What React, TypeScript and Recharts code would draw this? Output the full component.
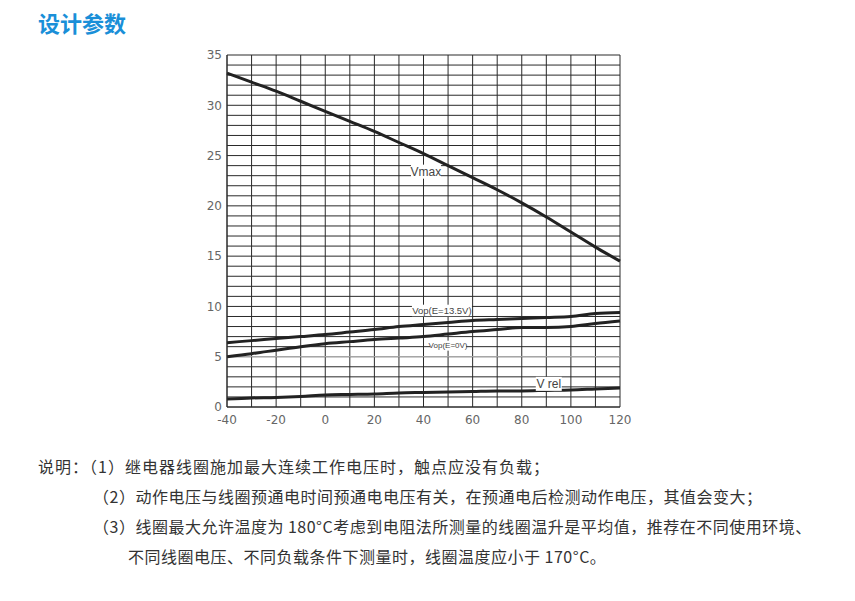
import React from 'react';
import { LineChart, Line, XAxis, YAxis, CartesianGrid, ReferenceDot, ReferenceLine } from 'recharts';

const temps = [-40, -30, -20, -10, 0, 10, 20, 30, 40, 50, 60, 70, 80, 90, 100, 110, 120];
const vmax = [33.2, 32.3, 31.4, 30.4, 29.4, 28.4, 27.4, 26.3, 25.2, 24.0, 22.8, 21.6, 20.3, 18.9, 17.4, 15.9, 14.5];
const vop135 = [6.4, 6.6, 6.8, 7.0, 7.2, 7.45, 7.7, 8.0, 8.2, 8.4, 8.6, 8.7, 8.8, 8.9, 9.0, 9.3, 9.4];
const vop0 = [5.0, 5.3, 5.65, 6.0, 6.3, 6.5, 6.7, 6.85, 7.0, 7.25, 7.5, 7.7, 7.9, 7.9, 8.0, 8.3, 8.55];
const vrel = [0.8, 0.9, 0.95, 1.05, 1.2, 1.25, 1.3, 1.4, 1.45, 1.5, 1.55, 1.6, 1.6, 1.65, 1.7, 1.8, 1.9];

const xTicks = [-40, -30, -20, -10, 0, 10, 20, 30, 40, 50, 60, 70, 80, 90, 100, 110, 120];
const yTicks = Array.from({ length: 36 }, (_, i) => i);

const notes = [
  '说明：（1）继电器线圈施加最大连续工作电压时，触点应没有负载；',
  '（2）动作电压与线圈预通电时间预通电电压有关，在预通电后检测动作电压，其值会变大；',
  '（3）线圈最大允许温度为 180°C考虑到电阻法所测量的线圈温升是平均值，推荐在不同使用环境、',
  '不同线圈电压、不同负载条件下测量时，线圈温度应小于 170°C。',
];

const data = temps.map((t, i) => ({ t, vmax: vmax[i], vop135: vop135[i], vop0: vop0[i], vrel: vrel[i] }));

const makeLabel = (text: string, size: number, w: number) => (props: any) => {
  const vb = props.viewBox || {};
  const cx = vb.x + (vb.width || 0) / 2;
  const cy = vb.y + (vb.height || 0) / 2;
  return (
    <g>
      <rect x={cx - w / 2} y={cy - size / 2 - 1} width={w} height={size + 2} fill="#fff" />
      <text x={cx} y={cy} textAnchor="middle" dominantBaseline="central" fontSize={size} fill="#444" fontFamily="'Liberation Sans', Arial, sans-serif">
        {text}
      </text>
    </g>
  );
};

const tickStyle = { fontSize: 12, fill: '#666', fontFamily: "'DejaVu Sans', sans-serif" };

export default function App() {
  return (
    <div style={{ position: 'absolute', left: 0, top: 0, width: 855, height: 601, background: '#fff', fontFamily: "'Noto Sans CJK SC', sans-serif" }}>
      <div style={{ position: 'absolute', left: 38, top: 8, fontSize: 22, fontWeight: 700, color: '#1a8fd8', lineHeight: '28px' }}>设计参数</div>
      <div style={{ position: 'absolute', left: 0, top: 0 }}>
        <LineChart width={855} height={440} data={data} margin={{ top: 55, right: 235, bottom: 3, left: 197 }}>
          <CartesianGrid stroke="#2a2a2a" strokeWidth={1} horizontalValues={yTicks} verticalValues={xTicks} />
          <ReferenceLine y={5} stroke="#bbb" strokeWidth={1} />
          <XAxis
            dataKey="t"
            type="number"
            domain={[-40, 120]}
            ticks={xTicks}
            interval={0}
            tickFormatter={(v: number) => (v % 20 === 0 ? String(v) : '')}
            tickLine={false}
            tickSize={0}
            axisLine={{ stroke: '#2a2a2a' }}
            tick={tickStyle}
            tickMargin={8}
            height={30}
          />
          <YAxis
            type="number"
            domain={[0, 35]}
            ticks={yTicks}
            interval={0}
            tickFormatter={(v: number) => (v % 5 === 0 ? String(v) : '')}
            tickLine={false}
            tickSize={0}
            axisLine={{ stroke: '#2a2a2a' }}
            tick={tickStyle}
            tickMargin={5}
            width={30}
          />
          <Line type="monotone" dataKey="vmax" stroke="#222" strokeWidth={3} dot={false} isAnimationActive={false} />
          <Line type="monotone" dataKey="vop135" stroke="#222" strokeWidth={3} dot={false} isAnimationActive={false} />
          <Line type="monotone" dataKey="vop0" stroke="#222" strokeWidth={3} dot={false} isAnimationActive={false} />
          <Line type="monotone" dataKey="vrel" stroke="#222" strokeWidth={3} dot={false} isAnimationActive={false} />
          <ReferenceDot x={41} y={23.4} r={0} stroke="none" label={makeLabel('Vmax', 12, 30)} />
          <ReferenceDot x={47.5} y={9.6} r={0} stroke="none" label={makeLabel('Vop(E=13.5V)', 9.5, 60)} />
          <ReferenceDot x={50} y={6.1} r={0} stroke="none" label={makeLabel('Vop(E=0V)', 8, 36)} />
          <ReferenceDot x={91} y={2.3} r={0} stroke="none" label={makeLabel('V rel', 12, 26)} />
        </LineChart>
      </div>
      {notes.map((n, i) => (
        <div
          key={i}
          style={{
            position: 'absolute',
            left: i === 0 ? 38 : i === 3 ? 128 : 93,
            top: 452 + i * 30,
            fontSize: 16,
            letterSpacing: i === 0 ? 1 : 0.5,
            lineHeight: '28px',
            color: '#333',
            whiteSpace: 'nowrap',
          }}
        >
          {n}
        </div>
      ))}
    </div>
  );
}
